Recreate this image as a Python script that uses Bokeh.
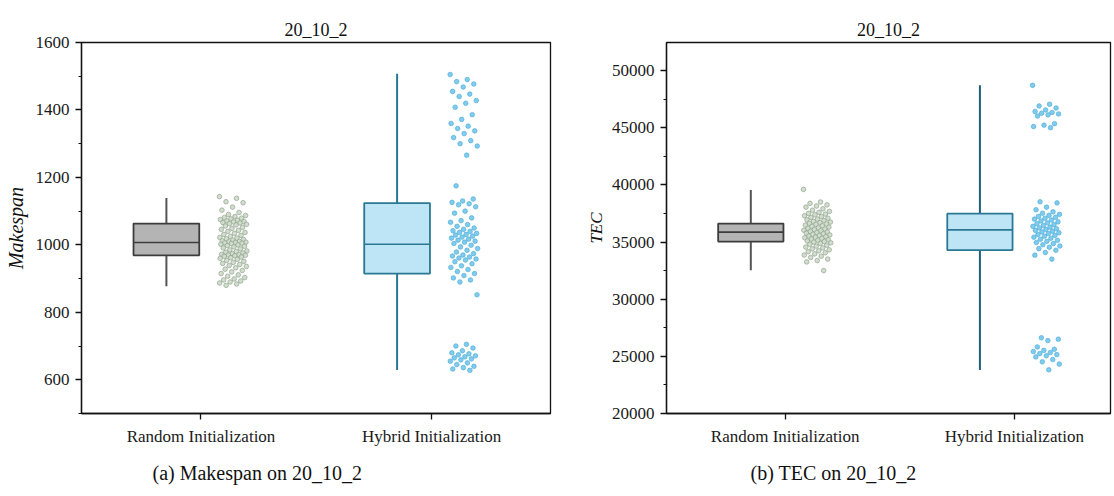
from bokeh.plotting import figure
from bokeh.layouts import row
from bokeh.models import ColumnDataSource, SingleIntervalTicker, FixedTicker, Range1d, Title
from bokeh.embed import file_html
from bokeh.resources import INLINE

categories = ["Random Initialization", "Hybrid Initialization"]

# box statistics (min, Q1, median, Q3, max)
mk_lower = [877, 629]
mk_q1 = [969, 915]
mk_median = [1007, 1002]
mk_q3 = [1063, 1124]
mk_upper = [1139, 1507]

tec_lower = [32520, 23800]
tec_q1 = [35040, 34290]
tec_median = [35860, 36060]
tec_q3 = [36610, 37480]
tec_upper = [39550, 48700]

# individual runs (estimated)
mk_random = [1143, 1138, 1128, 1125, 1112, 1103, 1096, 1090, 1087, 1084, 1081, 1079, 1077, 1075,
             1073, 1071, 1069, 1068, 1066, 1065, 1063, 1061, 1059, 1056, 1052, 1049, 1046, 1043,
             1040, 1037, 1034, 1031, 1028, 1025, 1022, 1020, 1018, 1016, 1014, 1012, 1010, 1009,
             1008, 1007, 1006, 1005, 1004, 1002, 1000, 998, 996, 994, 991, 988, 985, 982, 980,
             978, 976, 974, 972, 971, 970, 969, 968, 966, 964, 962, 960, 957, 954, 951, 948,
             945, 942, 939, 936, 932, 928, 924, 920, 915, 911, 907, 903, 899, 896, 893, 890,
             887, 884, 880]
mk_hybrid = [1505, 1490, 1484, 1477, 1468, 1455, 1447, 1440, 1428, 1420, 1408, 1386, 1372, 1360,
             1352, 1345, 1338, 1330, 1318, 1309, 1300, 1293, 1266,
             1175, 1136, 1130, 1126, 1122, 1119, 1113, 1100, 1094, 1080, 1072, 1067, 1060, 1055,
             1050, 1046, 1042, 1040, 1037, 1034, 1031, 1029, 1026, 1023, 1020, 1017, 1014, 1011,
             1008, 1004, 999, 994, 989, 984, 979, 974, 970, 967, 964, 961, 958, 955, 950, 944,
             938, 933, 927, 921, 915, 909, 902, 896, 890, 852,
             705, 700, 694, 686, 680, 677, 674, 671, 668, 665, 662, 659, 655, 650, 645, 640,
             636, 632, 628]

tec_random = [39600, 38500, 38380, 38250, 38150, 38050, 37900, 37780, 37680, 37590, 37500, 37440,
              37380, 37300, 37220, 37150, 37080, 37000, 36940, 36880, 36800, 36740, 36690, 36640,
              36590, 36540, 36480, 36420, 36360, 36300, 36240, 36190, 36140, 36080, 36030, 35980,
              35920, 35870, 35820, 35770, 35720, 35670, 35620, 35570, 35520, 35470, 35420, 35370,
              35310, 35260, 35200, 35150, 35090, 35040, 34990, 34930, 34870, 34800, 34720, 34640,
              34560, 34480, 34400, 34320, 34230, 34150, 34060, 33960, 33860, 33760, 33650, 33500,
              33380, 33260, 32500]
tec_hybrid = [48700, 47050, 46900, 46720, 46550, 46420, 46330, 46260, 46200, 46120, 46020, 45350,
              45220, 45100, 45000,
              38520, 38420, 38050, 37820, 37640, 37520, 37420, 37330, 37240, 37160, 37080, 37000,
              36920, 36840, 36760, 36680, 36600, 36520, 36440, 36370, 36300, 36230, 36160, 36090,
              36020, 35950, 35880, 35810, 35740, 35660, 35580, 35500, 35420, 35330, 35240, 35150,
              35060, 34960, 34860, 34760, 34650, 34540, 34420, 34280, 34080, 33850, 33500,
              26620, 26500, 26380, 25820, 25620, 25520, 25420, 25330, 25240, 25150, 25050, 24950,
              24720, 24520, 24320, 23820]

FONT = "Liberation Serif"
BOX_FILL = ["#b4b4b4", "#bde5f6"]
BOX_LINE = ["#3c3c3c", "#2a7893"]
PT_FILL = ["#cbdcc7", "#74c5e9"]
PT_LINE = ["#8e9b8b", "#45acdb"]
BOX_OFF = -0.15
BOX_W = 0.285
PT_OFF = 0.14
PT_SPREAD = 0.06


def jitter(n):
    return [((i * 0.61803398875) % 1.0 - 0.5) * 2 * PT_SPREAD for i in range(n)]


def make_panel(title, ylabel, lower, q1, med, q3, upper, groups, yrange, interval,
               width, bleft, bright, caption, cap_offset, whisk_col, label_standoff):
    p = figure(width=width, height=494, output_backend="svg", toolbar_location=None,
               x_range=Range1d(0.482, 2.515), y_range=Range1d(*yrange),
               min_border_left=bleft, min_border_right=bright, min_border_top=42,
               min_border_bottom=80)
    p.title.text = title
    p.title.align = "center"
    p.title.text_font = FONT
    p.title.text_font_size = "18px"
    p.title.text_font_style = "normal"
    p.title.text_color = "#111111"
    p.title.standoff = 6

    p.xgrid.visible = False
    p.ygrid.visible = False
    p.outline_line_color = "#111111"
    p.outline_line_width = 1.3
    p.background_fill_color = "white"
    p.border_fill_color = "white"

    xs = [1, 2]
    bx = [x + BOX_OFF for x in xs]
    p.segment(x0=bx, x1=bx, y0=lower, y1=upper, line_color=whisk_col, line_width=2)
    src = ColumnDataSource(dict(left=[b - BOX_W / 2 for b in bx], right=[b + BOX_W / 2 for b in bx],
                                top=q3, bottom=q1, fill=BOX_FILL, line=BOX_LINE))
    p.quad(left="left", right="right", top="top", bottom="bottom", source=src,
           fill_color="fill", line_color="line", line_width=1.8)
    p.segment(x0=[b - BOX_W / 2 for b in bx], x1=[b + BOX_W / 2 for b in bx], y0=med, y1=med,
              line_color=BOX_LINE, line_width=1.6)
    for k, vals in enumerate(groups):
        px = [xs[k] + PT_OFF + j for j in jitter(len(vals))]
        p.scatter(px, vals, size=4.6, fill_color=PT_FILL[k], line_color=PT_LINE[k],
                  line_width=0.8, fill_alpha=0.9, line_alpha=0.8)

    p.xaxis.ticker = FixedTicker(ticks=xs)
    p.xaxis.major_label_overrides = {1: categories[0], 2: categories[1]}
    p.xaxis.major_tick_out = 6
    p.xaxis.major_tick_in = 0
    p.yaxis.ticker = SingleIntervalTicker(interval=interval, num_minor_ticks=2)
    p.yaxis.major_tick_out = 6
    p.yaxis.major_tick_in = 0
    p.yaxis.minor_tick_out = 3
    p.yaxis.minor_tick_in = 0
    for ax in (p.xaxis[0], p.yaxis[0]):
        ax.axis_line_color = "#111111"
        ax.axis_line_width = 1.3
        ax.major_tick_line_color = "#111111"
        ax.major_tick_line_width = 1.3
        ax.major_label_text_font = FONT
        ax.major_label_text_color = "#1a1a1a"
    p.xaxis.minor_tick_line_color = None
    p.yaxis.minor_tick_line_color = "#111111"
    p.xaxis.major_label_text_font_size = "17px"
    p.yaxis.major_label_text_font_size = "17px"
    p.xaxis.major_label_standoff = 7
    p.yaxis.major_label_standoff = 6
    p.yaxis.axis_label = ylabel
    p.yaxis.axis_label_text_font = FONT
    p.yaxis.axis_label_text_font_style = "italic"
    p.yaxis.axis_label_text_font_size = "20px" if len(ylabel) > 3 else "17px"
    p.yaxis.axis_label_text_color = "#111111"
    p.yaxis.axis_label_standoff = label_standoff

    cap = Title(text=caption, align="left", offset=cap_offset, text_font=FONT,
                text_font_size="20px", text_font_style="normal", text_color="#111111",
                standoff=22)
    p.add_layout(cap, "below")
    return p


p1 = make_panel("20_10_2", "Makespan", mk_lower, mk_q1, mk_median, mk_q3, mk_upper,
                [mk_random, mk_hybrid], (500, 1600), 200, 560, 81, 10,
                "(a) Makespan on 20_10_2", 71, ["#555555", "#2a7893"], 6)
p2 = make_panel("20_10_2", "TEC", tec_lower, tec_q1, tec_median, tec_q3, tec_upper,
                [tec_random, tec_hybrid], (20000, 52450), 5000, 552, 106, 2,
                "(b) TEC on 20_10_2", 84, ["#555555", "#1f5f80"], 3)
p2.x_range.end = 2.42

layout = row(p1, p2)
open("out.html", "w").write(file_html(layout, INLINE))
